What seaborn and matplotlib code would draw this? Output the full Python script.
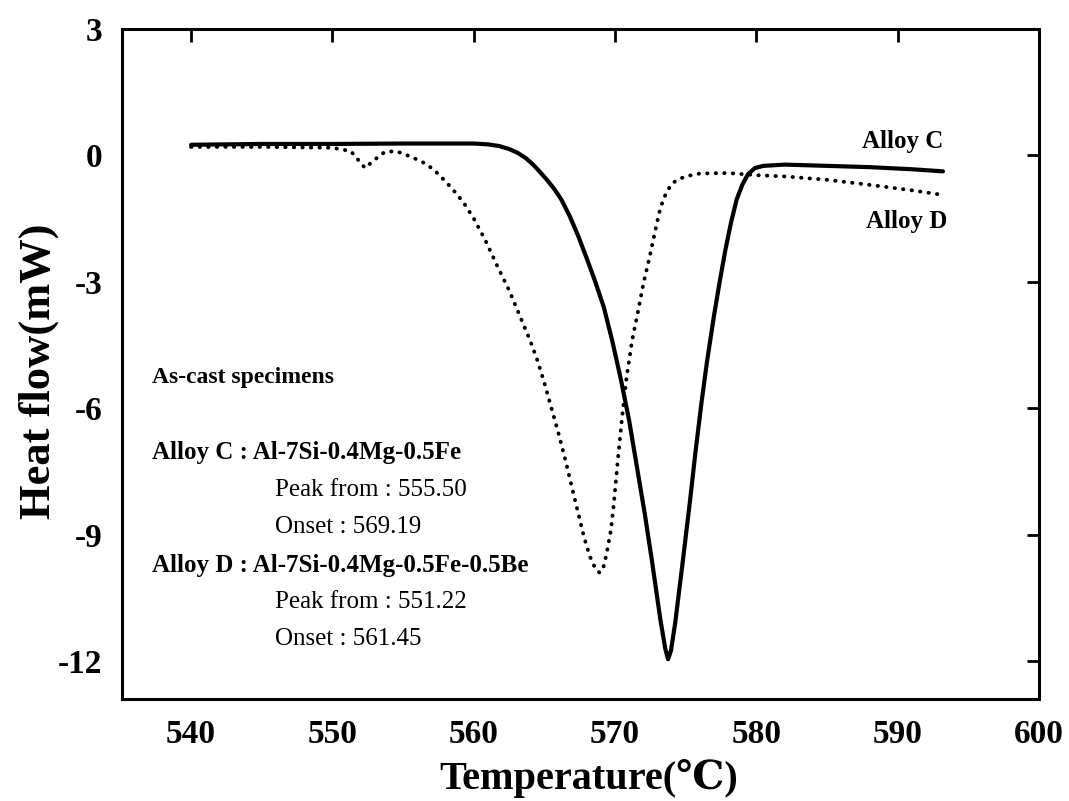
import numpy as np
import pandas as pd
import matplotlib
matplotlib.use("Agg")
import matplotlib.pyplot as plt
import seaborn as sns

# Alloy C (solid)
temp_c = [540, 545, 550, 555, 560, 561, 561.8, 562.5, 563.1, 563.7, 564.2, 564.7, 565.2, 565.7,
          566.2, 566.8, 567.4, 568, 568.6, 569.2, 569.8, 570.4, 571.0, 571.6, 572.1, 572.6,
          573.2, 573.55, 573.75, 573.95, 574.25, 574.8, 575.3, 575.7, 576.1, 576.5, 577.0,
          577.4, 577.8, 578.2, 578.6, 579.0, 579.4, 579.9, 580.5, 582, 585, 588, 591, 593.2]
flow_c = [0.25, 0.27, 0.27, 0.28, 0.28, 0.26, 0.22, 0.15, 0.06, -0.07, -0.22, -0.4, -0.59,
          -0.8, -1.05, -1.45, -1.92, -2.45, -3.0, -3.6, -4.4, -5.3, -6.3, -7.5, -8.5, -9.6,
          -11.0, -11.7, -11.95, -11.75, -11.1, -9.6, -8.2, -7.0, -5.9, -4.9, -3.8,
          -3.0, -2.25, -1.6, -1.05, -0.7, -0.45, -0.3, -0.25, -0.22, -0.25, -0.28, -0.33, -0.38]

# Alloy D (dotted)
temp_d = [540, 545, 550, 551.3, 552.3, 553, 553.7, 554.5, 555.3, 556, 556.6, 557.2, 557.8,
          558.5, 559.3, 560, 560.8, 561.7, 562.5, 563.3, 564, 564.5, 565, 565.5, 566, 566.5,
          567, 567.4, 567.8, 568.2, 568.6, 568.9, 569.15, 569.4, 569.7, 569.9, 570.2, 570.5,
          570.8, 571.2, 571.6, 572.0, 572.5, 572.9, 573.2, 573.6, 574.0, 574.4, 575, 576,
          578, 580, 582, 585, 588, 591, 593.2]
flow_d = [0.2, 0.2, 0.18, 0.1, -0.3, -0.1, 0.08, 0.1, 0.0, -0.1, -0.2, -0.35, -0.55,
          -0.8, -1.13, -1.5, -2.0, -2.65, -3.2, -3.84, -4.4, -4.86, -5.4, -6.0, -6.6, -7.25,
          -7.95, -8.5, -9.05, -9.5, -9.8, -9.9, -9.8, -9.45, -8.9, -8.3, -7.2, -6.2,
          -5.3, -4.4, -3.74, -3.05, -2.32, -1.7, -1.25, -0.9, -0.68, -0.58, -0.5, -0.43,
          -0.42, -0.47, -0.5, -0.58, -0.7, -0.83, -0.94]

x_ticks = [540, 550, 560, 570, 580, 590, 600]
y_ticks = [3, 0, -3, -6, -9, -12]

sns.set_theme(style="white")
plt.rcParams['font.family'] = ['Liberation Serif', 'DejaVu Serif', 'Noto Sans CJK SC']
plt.rcParams['axes.unicode_minus'] = False
plt.rcParams['text.color'] = 'black'
plt.rcParams['axes.labelcolor'] = 'black'
plt.rcParams['xtick.color'] = 'black'
plt.rcParams['ytick.color'] = 'black'

fig = plt.figure(figsize=(10.69, 8.01), dpi=100)
ax = fig.add_axes([0.114, 0.127, 0.858, 0.837])

df_c = pd.DataFrame({"T": temp_c, "H": flow_c})
df_d = pd.DataFrame({"T": temp_d, "H": flow_d})

sns.lineplot(data=df_c, x="T", y="H", ax=ax, color="black", linewidth=3.0, sort=False)
sns.lineplot(data=df_d, x="T", y="H", ax=ax, color="black", linewidth=2.8, sort=False)
line_c = ax.lines[0]
line_c.set_solid_joinstyle("round")
line_d = ax.lines[-1]
line_d.set_linestyle((0, (0.1, 2.1)))
line_d.set_dash_capstyle("round")

ax.set_xlim(535.1, 600)
ax.set_ylim(-12.9, 3)
ax.set_xticks(x_ticks)
ax.set_yticks(y_ticks)
ax.set_xticklabels([str(v) for v in x_ticks])
ax.set_yticklabels([str(v) for v in y_ticks])

for s in ax.spines.values():
    s.set_linewidth(2.2)
    s.set_color("black")

ax.tick_params(axis="both", which="major", direction="in", length=9, width=2,
               top=True, right=True, colors="black", labelcolor="black")
ax.tick_params(axis="x", pad=14, labelsize=24)
ax.tick_params(axis="y", pad=14, labelsize=24)
for lab in ax.get_xticklabels() + ax.get_yticklabels():
    lab.set_fontweight("bold")

ax.set_xlabel("Temperature(℃)", fontsize=29, fontweight="bold", color="black")
ax.xaxis.label.set_va("center")
ax.xaxis.set_label_coords(0.509, -0.118)
ax.set_ylabel("Heat flow(mW)", fontsize=32, fontweight="bold", color="black")
ax.yaxis.set_label_coords(-0.068, 0.49)

ax.text(593.2, 0.32, "Alloy C", fontsize=18, fontweight="bold", va="center", ha="right", color="black")
ax.text(593.5, -1.58, "Alloy D", fontsize=18, fontweight="bold", va="center", ha="right", color="black")

ax.text(537.24, -5.28, "As-cast specimens", fontsize=17, fontweight="bold", va="center", color="black")
ax.text(537.24, -7.04, "Alloy C : Al-7Si-0.4Mg-0.5Fe", fontsize=18, fontweight="bold", va="center", color="black")
ax.text(545.94, -7.94, "Peak from : 555.50", fontsize=18, va="center", color="black")
ax.text(545.94, -8.82, "Onset : 569.19", fontsize=18, va="center", color="black")
ax.text(537.24, -9.72, "Alloy D : Al-7Si-0.4Mg-0.5Fe-0.5Be", fontsize=18, fontweight="bold", va="center", color="black")
ax.text(545.94, -10.6, "Peak from : 551.22", fontsize=18, va="center", color="black")
ax.text(545.94, -11.46, "Onset : 561.45", fontsize=18, va="center", color="black")

fig.savefig("out.png", dpi=100, facecolor="white")
